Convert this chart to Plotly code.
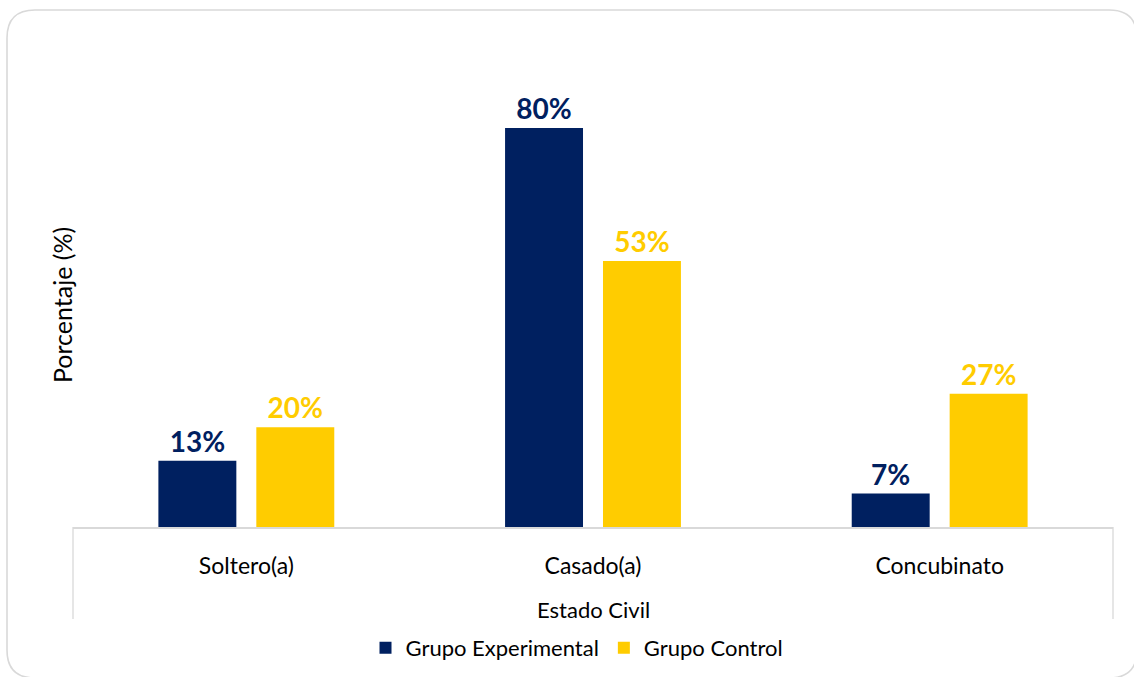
import plotly.graph_objects as go

# Estado civil por grupo (porcentaje de participantes)
categorias = ["Soltero(a)", "Casado(a)", "Concubinato"]
grupo_experimental = [13.3, 80.0, 6.7]
grupo_control = [20.0, 53.3, 26.7]
series_nombres = ["Grupo Experimental", "Grupo Control"]

AZUL = "#002060"
AMARILLO = "#FFCC00"
GRIS = "#D9D9D9"
FUENTE = "Lato"

W, H = 1134, 677
ML, MR, MT, MB = 73, 21, 78, 150
PW, PH = W - ML - MR, H - MT - MB


def px_x(x):
    return (x - ML) / PW


def px_y(y):
    return (H - MB - y) / PH


fig = go.Figure()
for nombre, valores, color in [
    (series_nombres[0], grupo_experimental, AZUL),
    (series_nombres[1], grupo_control, AMARILLO),
]:
    fig.add_trace(go.Bar(
        name=nombre,
        x=categorias,
        y=valores,
        marker=dict(color=color, line=dict(width=0)),
        texttemplate="%{y:.0f}%",
        textposition="outside",
        textfont=dict(family=FUENTE, size=28, color=color, weight="bold"),
        cliponaxis=False,
    ))

# Marco redondeado exterior
x0, x1, y0, y1, r = px_x(7), px_x(1137), px_y(10), px_y(678), 28
rx, ry = r / PW, r / PH
marco = (
    f"M {x0 + rx},{y0} L {x1 - rx},{y0} Q {x1},{y0} {x1},{y0 - ry} "
    f"L {x1},{y1 + ry} Q {x1},{y1} {x1 - rx},{y1} "
    f"L {x0 + rx},{y1} Q {x0},{y1} {x0},{y1 + ry} "
    f"L {x0},{y0 - ry} Q {x0},{y0} {x0 + rx},{y0} Z"
)
shapes = [
    dict(type="path", path=marco, xref="paper", yref="paper",
         line=dict(color=GRIS, width=1.6), layer="below"),
    # Recuadro de las etiquetas de categoría
    dict(type="line", xref="paper", yref="paper", x0=0, x1=0,
         y0=0, y1=px_y(619), line=dict(color=GRIS, width=1.3)),
    dict(type="line", xref="paper", yref="paper", x0=1, x1=1,
         y0=0, y1=px_y(619), line=dict(color=GRIS, width=1.3)),
]

annotations = [
    dict(text="Estado Civil", xref="paper", yref="paper",
         x=0.5, y=px_y(609), xanchor="center", yanchor="middle",
         showarrow=False, font=dict(family=FUENTE, size=22, color="#000000")),
    dict(text="Porcentaje (%)", xref="paper", yref="paper",
         x=px_x(62), y=px_y(305), xanchor="center", yanchor="middle",
         textangle=-90, showarrow=False,
         font=dict(family=FUENTE, size=25, color="#000000")),
]

fig.update_layout(
    width=W, height=H,
    margin=dict(l=ML, r=MR, t=MT, b=MB, autoexpand=False),
    paper_bgcolor="white", plot_bgcolor="white",
    barmode="group", bargap=0.435, bargroupgap=0.204,
    font=dict(family=FUENTE, color="#000000"),
    showlegend=True,
    legend=dict(
        orientation="h", x=577 / W, y=(H - 648) / H,
        xref="container", yref="container",
        xanchor="center", yanchor="middle",
        font=dict(family=FUENTE, size=22, color="#000000"),
        bgcolor="rgba(0,0,0,0)", itemclick=False,
    ),
    shapes=shapes,
    annotations=annotations,
)
fig.update_xaxes(
    showline=True, linecolor=GRIS, linewidth=1.5, automargin=False,
    showgrid=False, ticks="", ticklabelstandoff=18,
    tickfont=dict(family=FUENTE, size=23, color="#000000"),
)
fig.update_yaxes(
    range=[0, 90], showgrid=False, showline=False, automargin=False,
    showticklabels=False, zeroline=False, ticks="",
)

fig.write_html("out.html")
